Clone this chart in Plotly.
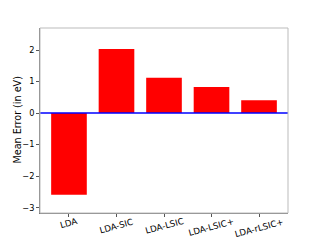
import plotly.graph_objects as go

methods = ["LDA", "LDA-SIC", "LDA-LSIC", "LDA-LSIC+", "LDA-rLSIC+"]
mean_error = [-2.59, 2.03, 1.12, 0.83, 0.41]
y_ticks = [-3, -2, -1, 0, 1, 2]
y_tick_labels = ["\u22123", "\u22122", "\u22121", "0", "1", "2"]

fig = go.Figure()
fig.add_trace(go.Bar(x=list(range(len(methods))), y=mean_error, width=0.75,
                     marker=dict(color="red", line=dict(width=0))))
fig.add_hline(y=0, line=dict(color="blue", width=1.5))
fig.add_shape(type="rect", xref="paper", yref="paper", x0=0, x1=1, y0=0, y1=1,
              line=dict(color="#bbbbbb", width=1))

for i, m in enumerate(methods):
    fig.add_annotation(x=i, xref="x", y=0, yref="paper", yshift=-1,
                       text=m, showarrow=False, textangle=-15,
                       xanchor="center", yanchor="top",
                       font=dict(size=8.7, family="DejaVu Sans", color="black"))

fig.add_annotation(x=0, xref="paper", xshift=-23, y=0.5, yref="paper",
                   text="Mean Error (in eV)", showarrow=False, textangle=-90,
                   xanchor="center", yanchor="middle",
                   font=dict(size=9.6, family="DejaVu Sans", color="black"))

fig.update_layout(
    width=312, height=232,
    margin=dict(l=32, r=32, t=20, b=27),
    paper_bgcolor="white", plot_bgcolor="white",
    showlegend=False,
    font=dict(family="DejaVu Sans", color="black"),
)
fig.update_xaxes(
    range=[-0.61, 4.61], tickmode="array", tickvals=list(range(len(methods))),
    showticklabels=False, automargin=False,
    ticks="outside", ticklen=3, tickcolor="#555", showgrid=False, zeroline=False,
    showline=True, linecolor="#777", linewidth=1,
)
fig.update_yaxes(
    range=[-3.17, 2.70], tickmode="array", tickvals=y_ticks, ticktext=y_tick_labels,
    tickfont=dict(size=8.2), ticks="outside", ticklen=3, tickcolor="#555", automargin=False,
    showgrid=False, zeroline=False, showline=True, linecolor="#777", linewidth=1,
)

fig.write_html("out.html")
